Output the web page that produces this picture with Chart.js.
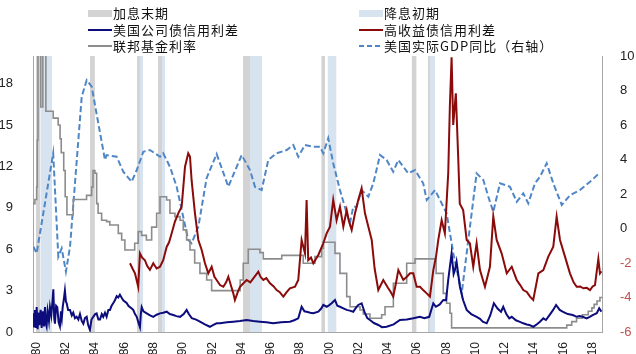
<!DOCTYPE html>
<html>
<head>
<meta charset="utf-8">
<script src="https://cdn.jsdelivr.net/npm/chart.js@4.4.1/dist/chart.umd.min.js"></script>
<style>
  body { margin: 0; background: #fff; }
  #wrap { position: relative; width: 636px; height: 354px; }
  .lg { position: absolute; height: 16px; line-height: 16px; font: 13px 'Noto Sans CJK SC', sans-serif; letter-spacing: 1px; color: #111; white-space: nowrap; }
  .sw { display: inline-block; width: 24px; vertical-align: middle; margin-right: 1px; position: relative; top: -1px; }
</style>
</head>
<body>
<div id="wrap">
  <canvas id="myChart" width="636" height="354"></canvas>
  <div class="lg" style="left:88px;top:3px"><span class="sw" style="height:7px;background:#d3d3d3"></span>加息末期</div>
  <div class="lg" style="left:359px;top:3px"><span class="sw" style="height:7px;background:#d8e3f0"></span>降息初期</div>
  <div class="lg" style="left:88px;top:20px"><span class="sw" style="height:2px;background:#0c0c7c"></span>美国公司债信用利差</div>
  <div class="lg" style="left:359px;top:20px"><span class="sw" style="height:2px;background:#8b0a0a"></span>高收益债信用利差</div>
  <div class="lg" style="left:88px;top:36px"><span class="sw" style="height:2px;background:#8c8c8c"></span>联邦基金利率</div>
  <div class="lg" style="left:359px;top:36px"><span class="sw" style="height:2px;background:repeating-linear-gradient(90deg,#4f86c6 0 5px,transparent 5px 8px)"></span>美国实际GDP同比（右轴）</div>
</div>
<script>
// Axes
const tickYears = [1980, 1982, 1984, 1986, 1988, 1990, 1992, 1994, 1996, 1998, 2000, 2002, 2004, 2006, 2008, 2010, 2012, 2014, 2016, 2018];
const leftTicks = [0, 3, 6, 9, 12, 15, 18];
const rightTicks = [-6, -4, -2, 0, 2, 4, 6, 8, 10];

// Périodes : fin de hausse des taux / début de baisse
const hikeEndBands = [[1979.95, 1980.25], [1983.64, 1983.98], [1986.86, 1987.06], [1988.29, 1988.57], [1994.1, 1994.58], [1999.45, 1999.72], [2005.63, 2005.97], [2006.75, 2006.88]];
const cutStartBands = [[1980.25, 1981.05], [1987.06, 1987.27], [1988.57, 1988.78], [1994.58, 1995.4], [1999.88, 2000.5], [2006.88, 2007.24]];

// 美国公司债信用利差 (%)
const corpSpread = [[1979.75,1.35],[1979.82,0.4],[1979.88,1.6],[1979.95,0.3],[1980.0,1.8],[1980.07,0.2],[1980.11,1.4],[1980.18,0.5],[1980.27,1.6],[1980.34,0.3],[1980.41,1.5],[1980.5,0.4],[1980.57,1.8],[1980.63,0.6],[1980.68,0.4],[1980.75,1.5],[1980.84,0.8],[1980.91,1.8],[1981.0,1.2],[1981.08,2.2],[1981.14,3.1],[1981.2,1.0],[1981.25,0.6],[1981.33,1.9],[1981.41,1.8],[1981.5,0.7],[1981.59,0.4],[1981.66,1.5],[1981.72,1.0],[1981.78,1.8],[1981.86,2.4],[1981.93,3.0],[1982.0,2.2],[1982.05,2.1],[1982.15,1.6],[1982.28,1.6],[1982.4,1.2],[1982.5,1.4],[1982.62,1.0],[1982.73,1.1],[1982.85,0.9],[1982.96,1.3],[1983.08,0.8],[1983.19,0.6],[1983.3,1.0],[1983.42,1.1],[1983.52,0.5],[1983.64,0.15],[1983.75,0.9],[1983.87,1.1],[1984.0,1.3],[1984.1,1.35],[1984.22,0.9],[1984.33,0.9],[1984.45,1.3],[1984.55,1.1],[1984.67,1.4],[1984.78,1.1],[1984.9,1.6],[1985.01,1.6],[1985.12,1.9],[1985.24,2.1],[1985.35,2.3],[1985.47,2.6],[1985.58,2.5],[1985.69,2.7],[1985.8,2.5],[1985.92,2.3],[1986.03,2.2],[1986.15,2.1],[1986.27,1.9],[1986.38,1.8],[1986.5,1.7],[1986.6,1.6],[1986.72,1.3],[1986.84,1.1],[1986.95,0.7],[1987.06,0.35],[1987.12,1.3],[1987.18,1.8],[1987.3,1.5],[1987.52,1.35],[1987.75,1.2],[1987.97,1.1],[1988.2,1.25],[1988.43,1.35],[1988.65,1.4],[1988.89,1.47],[1989.1,1.3],[1989.34,1.23],[1989.55,1.15],[1989.8,1.1],[1990.05,1.3],[1990.25,1.6],[1990.4,1.3],[1990.6,1.0],[1990.9,0.9],[1991.16,0.75],[1991.5,0.55],[1991.84,0.38],[1992.05,0.5],[1992.3,0.63],[1992.54,0.63],[1993.0,0.7],[1993.44,0.75],[1993.9,0.8],[1994.35,0.87],[1994.8,0.8],[1995.26,0.75],[1995.7,0.7],[1996.17,0.63],[1996.7,0.7],[1997.31,0.75],[1997.6,0.85],[1997.88,0.99],[1998.11,1.83],[1998.3,1.5],[1998.45,1.47],[1998.7,1.4],[1998.91,1.36],[1999.25,1.47],[1999.45,1.7],[1999.59,1.96],[1999.82,1.83],[2000.0,1.95],[2000.16,2.08],[2000.39,2.32],[2000.55,1.9],[2000.73,1.83],[2001.0,1.7],[2001.19,1.6],[2001.4,1.55],[2001.64,1.47],[2001.85,1.8],[2001.98,1.96],[2002.21,2.08],[2002.44,1.36],[2002.6,1.0],[2002.78,0.87],[2003.05,0.65],[2003.35,0.51],[2003.6,0.35],[2003.92,0.38],[2004.4,0.55],[2004.83,0.87],[2005.3,0.9],[2005.74,0.99],[2006.2,1.1],[2006.5,1.0],[2006.83,1.1],[2007.11,2.08],[2007.29,1.83],[2007.55,2.0],[2007.79,2.32],[2007.98,2.3],[2008.13,3.77],[2008.36,5.7],[2008.5,4.2],[2008.59,4.49],[2008.7,5.09],[2008.93,3.28],[2009.15,2.3],[2009.39,1.6],[2009.7,1.3],[2010.07,1.1],[2010.3,0.95],[2010.49,0.75],[2010.76,0.63],[2011.0,1.2],[2011.25,2.08],[2011.5,1.7],[2011.74,1.47],[2011.89,1.83],[2012.1,1.3],[2012.3,0.99],[2012.47,1.1],[2012.75,0.85],[2012.99,0.75],[2013.26,0.63],[2013.5,0.55],[2013.67,0.51],[2013.94,0.38],[2014.13,0.51],[2014.4,0.75],[2014.63,0.99],[2014.81,0.87],[2015.1,1.3],[2015.3,1.6],[2015.5,1.96],[2015.75,1.6],[2015.95,1.47],[2016.3,1.3],[2016.64,1.23],[2016.91,1.1],[2017.1,1.15],[2017.32,1.1],[2017.59,0.99],[2017.8,1.1],[2018.0,1.23],[2018.28,1.36],[2018.45,1.72],[2018.6,1.47]];

// 高收益债信用利差 (%)
const hySpread = [[1986.38,4.98],[1986.55,4.6],[1986.72,4.25],[1986.94,3.28],[1987.06,5.7],[1987.2,5.4],[1987.4,5.2],[1987.55,4.8],[1987.74,4.5],[1987.97,4.98],[1988.2,4.6],[1988.43,4.73],[1988.65,5.2],[1988.89,6.18],[1989.05,6.5],[1989.23,7.15],[1989.45,8.0],[1989.68,8.6],[1989.91,9.08],[1990.14,11.98],[1990.36,12.95],[1990.48,12.7],[1990.59,11.0],[1990.82,8.6],[1991.05,6.67],[1991.28,5.94],[1991.5,5.0],[1991.73,4.25],[1991.96,4.73],[1992.15,4.0],[1992.3,3.77],[1992.53,3.4],[1992.76,3.28],[1992.95,3.6],[1993.1,4.0],[1993.3,3.3],[1993.44,2.8],[1993.55,2.32],[1993.75,2.9],[1993.9,3.28],[1994.1,3.5],[1994.35,3.77],[1994.6,3.6],[1994.81,3.89],[1995.15,4.37],[1995.3,4.0],[1995.49,3.77],[1995.7,3.9],[1995.95,3.53],[1996.2,3.3],[1996.4,3.04],[1996.6,2.9],[1996.86,2.56],[1997.1,2.9],[1997.31,3.17],[1997.66,3.28],[1997.88,3.77],[1998.11,6.67],[1998.34,5.7],[1998.45,9.57],[1998.56,5.2],[1998.75,5.4],[1998.91,4.98],[1999.25,5.58],[1999.59,6.43],[1999.82,7.15],[2000.05,7.63],[2000.27,9.57],[2000.5,8.1],[2000.73,9.08],[2000.96,7.63],[2001.19,8.84],[2001.35,8.0],[2001.53,7.39],[2001.76,8.6],[2001.98,9.57],[2002.21,10.41],[2002.44,8.6],[2002.67,7.63],[2002.9,6.67],[2003.1,4.6],[2003.35,3.04],[2003.69,3.77],[2004.03,3.17],[2004.2,2.9],[2004.37,2.56],[2004.55,3.5],[2004.72,4.49],[2005.06,3.77],[2005.3,4.0],[2005.52,4.25],[2005.74,4.25],[2005.97,3.28],[2006.2,3.28],[2006.45,3.0],[2006.66,2.8],[2006.88,2.56],[2007.11,4.49],[2007.3,5.5],[2007.45,6.67],[2007.68,8.1],[2007.9,7.15],[2008.13,11.5],[2008.24,16.3],[2008.36,19.9],[2008.47,15.0],[2008.65,17.3],[2008.81,12.7],[2008.92,9.3],[2009.15,8.84],[2009.39,6.67],[2009.61,6.43],[2009.84,4.73],[2010.07,6.43],[2010.3,4.49],[2010.64,3.28],[2010.98,4.73],[2011.21,8.36],[2011.44,6.67],[2011.78,5.7],[2011.95,5.0],[2012.13,4.25],[2012.47,4.73],[2012.81,3.77],[2013.05,3.4],[2013.26,3.04],[2013.5,2.9],[2013.72,2.56],[2013.94,2.32],[2014.29,4.25],[2014.63,4.49],[2014.97,5.46],[2015.31,6.18],[2015.54,8.36],[2015.77,6.67],[2016.11,5.46],[2016.45,4.25],[2016.7,3.6],[2016.91,3.28],[2017.15,3.3],[2017.36,3.17],[2017.6,3.2],[2017.82,3.04],[2018.0,3.3],[2018.16,3.4],[2018.39,5.3],[2018.5,4.25],[2018.6,4.4]];

// 联邦基金利率 (%) : date du changement, nouveau niveau
const fedFunds = [[1979.75,9.3],[1979.88,9.6],[1980.0,10.5],[1980.04,13.9],[1980.09,21],[1980.28,16.3],[1980.42,21],[1980.63,16.0],[1981.13,15.5],[1981.47,15.0],[1981.6,14.0],[1981.68,13.0],[1981.85,11.7],[1981.95,9.8],[1982.07,8.5],[1982.5,9.6],[1983.41,9.9],[1983.76,10.5],[1983.85,11.7],[1983.98,11.5],[1984.1,9.3],[1984.2,8.6],[1984.44,8.1],[1984.78,8.0],[1985.0,7.75],[1985.58,7.15],[1985.81,6.67],[1986.03,5.94],[1986.7,6.43],[1986.94,7.27],[1987.17,7.0],[1987.5,6.67],[1987.86,7.6],[1988.2,8.6],[1988.43,9.8],[1988.88,9.57],[1989.11,8.6],[1989.45,8.36],[1989.8,8.1],[1990.02,7.4],[1990.25,6.67],[1990.48,5.94],[1990.8,5.0],[1991.16,4.25],[1991.62,3.77],[1991.96,3.0],[1993.91,3.77],[1994.12,4.98],[1994.46,6.0],[1995.26,5.75],[1995.49,5.3],[1996.75,5.55],[1998.22,4.98],[1999.02,5.46],[1999.48,6.07],[1999.59,6.5],[2000.39,5.7],[2000.73,4.25],[2001.19,2.56],[2001.42,1.83],[2002.1,1.59],[2002.32,1.3],[2002.78,1.0],[2003.58,1.25],[2003.81,1.83],[2004.38,3.53],[2005.29,4.98],[2005.86,5.3],[2007.3,4.25],[2007.79,2.8],[2008.02,2.08],[2008.25,1.36],[2008.36,0.3],[2016.23,0.5],[2016.57,0.75],[2016.9,1.0],[2017.3,1.25],[2017.7,1.5],[2017.95,1.75],[2018.1,2.0],[2018.3,2.25],[2018.5,2.5],[2018.64,2.5]];

// 美国实际GDP同比 (%) - axe de droite
const gdpYoY = [[1979.78,-1.06],[1980.0,-1.44],[1981.13,4.36],[1981.48,-1.63],[1981.71,-1.15],[1982.0,-2.5],[1982.28,-1.06],[1983.08,7.64],[1983.42,8.6],[1983.76,8.22],[1984.67,3.97],[1984.78,4.26],[1985.47,4.16],[1985.92,3.29],[1986.49,2.71],[1986.84,3.39],[1987.29,4.45],[1987.74,4.55],[1988.43,4.16],[1988.65,4.36],[1989.11,3.58],[1989.57,2.42],[1990.36,-0.67],[1990.59,-0.86],[1991.05,0.1],[1991.62,2.93],[1992.3,4.32],[1992.53,3.78],[1993.1,2.42],[1994.01,4.26],[1994.58,3.39],[1994.92,2.42],[1995.38,2.23],[1995.83,3.97],[1996.4,4.36],[1997.09,4.55],[1997.54,4.84],[1997.88,4.16],[1998.34,4.84],[1998.91,4.74],[1999.37,4.74],[1999.59,4.36],[1999.93,5.23],[2000.27,3.78],[2000.73,2.23],[2001.19,0.88],[2001.41,0.3],[2001.64,1.26],[2001.87,1.26],[2002.21,2.23],[2002.67,1.84],[2003.01,2.62],[2003.47,4.26],[2003.92,3.97],[2004.37,3.29],[2004.72,3.97],[2005.4,3.2],[2005.86,3.39],[2006.42,2.62],[2006.66,1.65],[2007.23,2.23],[2008.02,0.88],[2008.48,-1.44],[2009.05,-3.76],[2010.07,3.2],[2010.53,2.81],[2010.87,1.84],[2011.21,0.97],[2011.67,2.62],[2012.35,2.42],[2012.81,1.55],[2013.26,2.04],[2013.6,1.46],[2014.06,2.62],[2014.4,3.0],[2014.86,3.78],[2015.31,2.62],[2015.89,1.36],[2016.46,1.94],[2017.14,2.23],[2017.82,2.71],[2018.45,3.2]];

const FONT = "'Liberation Sans', Arial, sans-serif";

function toPoints(pairs) {
    return pairs.map(p => ({ x: p[0], y: p[1] }));
}

// Bandes verticales : segments à y=20 remplis jusqu'à 0
function bandPoints(bands) {
    const pts = [];
    bands.forEach(b => {
        pts.push({ x: b[0], y: 20 }, { x: b[1], y: 20 }, { x: b[1], y: null });
    });
    return pts;
}

const ctx = document.getElementById('myChart').getContext('2d');
const myChart = new Chart(ctx, {
    type: 'line',
    data: {
        datasets: [
            {
                label: '美国公司债信用利差',
                data: toPoints(corpSpread),
                borderColor: '#0c0c7c',
                borderWidth: 2,
                yAxisID: 'y'
            },
            {
                label: '高收益债信用利差',
                data: toPoints(hySpread),
                borderColor: '#8b0a0a',
                borderWidth: 2,
                yAxisID: 'y'
            },
            {
                label: '联邦基金利率',
                data: toPoints(fedFunds),
                borderColor: '#8c8c8c',
                borderWidth: 1.6,
                stepped: true,
                yAxisID: 'y'
            },
            {
                label: '美国实际GDP同比（右轴）',
                data: toPoints(gdpYoY),
                borderColor: '#4f86c6',
                borderWidth: 2,
                borderDash: [6, 3],
                yAxisID: 'y2'
            },
            {
                label: '降息初期',
                data: bandPoints(cutStartBands),
                borderWidth: 0,
                backgroundColor: '#d8e3f0',
                fill: 'origin',
                spanGaps: false,
                yAxisID: 'y'
            },
            {
                label: '加息末期',
                data: bandPoints(hikeEndBands),
                borderWidth: 0,
                backgroundColor: '#d3d3d3',
                fill: 'origin',
                spanGaps: false,
                yAxisID: 'y'
            }
        ]
    },
    options: {
        responsive: false,
        animation: false,
        devicePixelRatio: 1,
        layout: { padding: { top: 56, left: 0, right: 0, bottom: 0 } },
        elements: {
            point: { radius: 0 },
            line: { tension: 0 }
        },
        plugins: {
            legend: { display: false },
            tooltip: { enabled: false }
        },
        scales: {
            x: {
                type: 'linear',
                min: 1979.75,
                max: 2018.64,
                grid: { display: false },
                border: { display: true, color: '#a6a6a6' },
                afterBuildTicks: s => { s.ticks = tickYears.map(v => ({ value: v })); },
                afterFit: s => { s.height = 22; },
                ticks: {
                    autoSkip: false,
                    minRotation: 90,
                    maxRotation: 90,
                    padding: 2,
                    color: '#222',
                    font: { size: 12, family: FONT },
                    callback: v => String(v % 100).padStart(2, '0')
                }
            },
            y: {
                position: 'left',
                min: 0,
                max: 20,
                grid: { display: false },
                border: { display: true, color: '#a6a6a6' },
                afterBuildTicks: s => { s.ticks = leftTicks.map(v => ({ value: v })); },
                afterFit: s => { s.width = 33; },
                ticks: {
                    padding: 12,
                    color: '#222',
                    font: { size: 13, family: FONT }
                }
            },
            y2: {
                position: 'right',
                min: -6,
                max: 10,
                grid: { display: false },
                border: { display: true, color: '#a6a6a6' },
                afterBuildTicks: s => { s.ticks = rightTicks.map(v => ({ value: v })); },
                afterFit: s => { s.width = 34; },
                ticks: {
                    padding: 10,
                    color: c => (c.tick && c.tick.value < 0 ? '#c0504d' : '#222'),
                    font: { size: 13, family: FONT }
                }
            }
        }
    }
});
</script>
</body>
</html>
